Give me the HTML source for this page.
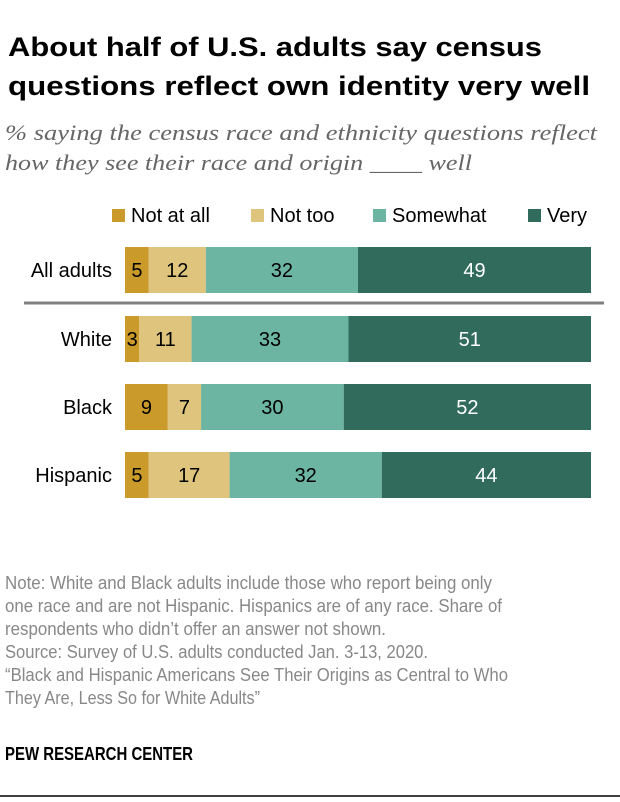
<!DOCTYPE html>
<html><head><meta charset="utf-8"><style>
body{margin:0;background:#fff;}
svg{display:block;font-family:"Liberation Sans",sans-serif;}
</style></head><body>
<svg width="620" height="802" viewBox="0 0 620 802">
<g font-weight="bold" font-size="27" fill="#000">
<text x="8" y="56" textLength="534" lengthAdjust="spacingAndGlyphs">About half of U.S. adults say census</text>
<text x="8" y="95" textLength="582" lengthAdjust="spacingAndGlyphs">questions reflect own identity very well</text>
</g>
<g font-family="Liberation Serif,serif" font-style="italic" font-size="22" fill="#666">
<text x="5" y="140" textLength="592" lengthAdjust="spacingAndGlyphs">% saying the census race and ethnicity questions reflect</text>
<text x="5" y="170" textLength="467" lengthAdjust="spacingAndGlyphs">how they see their race and origin ____ well</text>
</g>
<g id="legend"></g>
<line x1="24" y1="303" x2="604" y2="303" stroke="#808080" stroke-width="3"/>
<g id="bars"></g>
<g font-size="18" fill="#888">
<text x="5" y="589" textLength="487" lengthAdjust="spacingAndGlyphs">Note: White and Black adults include those who report being only</text>
<text x="5" y="612" textLength="497" lengthAdjust="spacingAndGlyphs">one race and are not Hispanic. Hispanics are of any race. Share of</text>
<text x="5" y="635" textLength="381" lengthAdjust="spacingAndGlyphs">respondents who didn’t offer an answer not shown.</text>
<text x="5" y="658" textLength="423" lengthAdjust="spacingAndGlyphs">Source: Survey of U.S. adults conducted Jan. 3-13, 2020.</text>
<text x="5" y="681" textLength="503" lengthAdjust="spacingAndGlyphs">“Black and Hispanic Americans See Their Origins as Central to Who</text>
<text x="5" y="704" textLength="255" lengthAdjust="spacingAndGlyphs">They Are, Less So for White Adults”</text>
</g>
<text x="5" y="760" font-size="18" font-weight="bold" fill="#000" textLength="188" lengthAdjust="spacingAndGlyphs">PEW RESEARCH CENTER</text>
<line x1="0" y1="796" x2="620" y2="796" stroke="#000" stroke-width="1.5"/>
</svg>
<script>
const categories=["All adults","White","Black","Hispanic"];
const seriesNames=["Not at all","Not too","Somewhat","Very"];
const notAtAll=[5,3,9,5];
const notToo=[12,11,7,17];
const somewhat=[32,33,30,32];
const very=[49,51,52,44];
const colors=["#CA9A2A","#DFC47D","#6BB5A2","#316B5C"];
const series=[notAtAll,notToo,somewhat,very];
const NS="http://www.w3.org/2000/svg";
const x0=125, pxPer=466/98;
const rowY=[247,316,384,452], barH=46;
const xs=v=>v*pxPer;
const bars=document.getElementById('bars');
categories.forEach((c,i)=>{
  const t=document.createElementNS(NS,'text');
  
  
  t.setAttribute('x',112);t.setAttribute('y',rowY[i]+barH/2+7);
  t.setAttribute('text-anchor','end');t.setAttribute('font-size','20');
  t.textContent=c;bars.appendChild(t);
  let acc=0;
  series.forEach((s,j)=>{
    const v=s[i];
    const r=document.createElementNS(NS,'rect');
    
    
    r.setAttribute('x',x0+xs(acc));r.setAttribute('y',rowY[i]);
    r.setAttribute('width',xs(v));r.setAttribute('height',barH);
    r.setAttribute('fill',colors[j]);bars.appendChild(r);
    const l=document.createElementNS(NS,'text');
    
    
    l.setAttribute('x',x0+xs(acc+v/2));l.setAttribute('y',rowY[i]+barH/2+7);
    l.setAttribute('text-anchor','middle');l.setAttribute('font-size','20');
    l.setAttribute('fill',j==3?'#fff':'#000');
    l.textContent=v;bars.appendChild(l);
    acc+=v;
  });
});
const legend=document.getElementById('legend');
const legX=[112,251,373,528];
seriesNames.forEach((n,j)=>{
  const r=document.createElementNS(NS,'rect');
  
  
  r.setAttribute('x',legX[j]);r.setAttribute('y',209);r.setAttribute('width',13);r.setAttribute('height',13);
  r.setAttribute('fill',colors[j]);legend.appendChild(r);
  const t=document.createElementNS(NS,'text');
  
  
  t.setAttribute('x',legX[j]+19);t.setAttribute('y',222);t.setAttribute('font-size','20');
  t.textContent=n;legend.appendChild(t);
});
</script>
</body></html>
